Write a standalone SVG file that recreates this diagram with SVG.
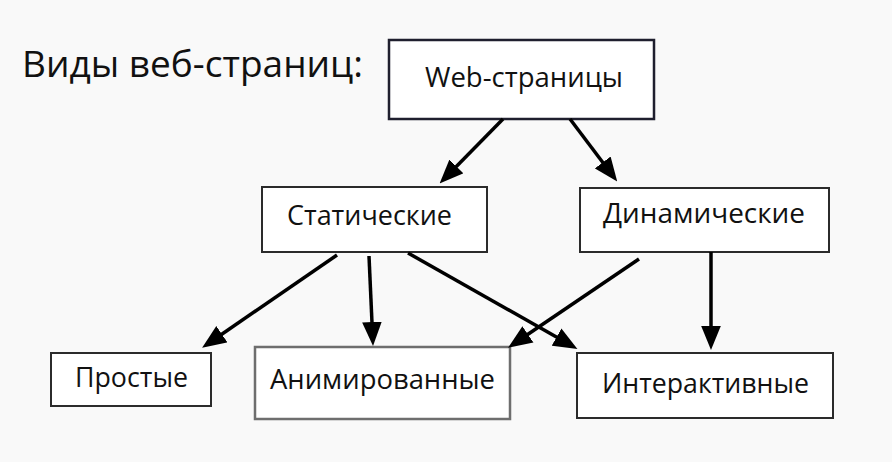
<svg xmlns="http://www.w3.org/2000/svg" width="892" height="462" viewBox="0 0 892 462">
<style>
.box{fill:#ffffff;stroke:#2b2b2b;stroke-width:2}
.lbl{font-family:"Open Sans","Noto Sans","DejaVu Sans",sans-serif;font-size:27px;fill:#111}
.ttl{font-family:"Open Sans","Noto Sans","DejaVu Sans",sans-serif;font-size:36px;fill:#111}
.con{stroke:#000;stroke-width:3.5;fill:none;marker-end:url(#ah)}
</style>
<defs>
<marker id="ah" markerUnits="userSpaceOnUse" markerWidth="24" markerHeight="20" refX="11" refY="9" orient="auto" viewBox="0 0 22 18">
<path d="M0,0 L22,9 L0,18 z" fill="#000"/>
</marker>
</defs>
<rect width="892" height="462" fill="#f9f9f9"/>
<text class="ttl" x="22" y="77" textLength="341" lengthAdjust="spacingAndGlyphs">Виды веб-страниц:</text>
<g id="web">
<rect class="box" x="389" y="40" width="265" height="79" style="stroke:#1f1f2e;stroke-width:2.5"/>
<text class="lbl" x="425" y="87" textLength="198" lengthAdjust="spacingAndGlyphs">Web-страницы</text>
</g>
<g id="static">
<rect class="box" x="262" y="187" width="225" height="65"/>
<text class="lbl" x="287" y="225" textLength="165" lengthAdjust="spacingAndGlyphs">Статические</text>
</g>
<g id="dynamic">
<rect class="box" x="580" y="188" width="249" height="64"/>
<text class="lbl" x="603" y="223" textLength="202" lengthAdjust="spacingAndGlyphs">Динамические</text>
</g>
<g id="simple">
<rect class="box" x="51" y="353" width="160" height="53"/>
<text class="lbl" x="75" y="387" textLength="113" lengthAdjust="spacingAndGlyphs">Простые</text>
</g>
<g id="animated">
<rect class="box" x="255" y="347" width="255" height="72" style="stroke:#6e6e6e;stroke-width:2.5"/>
<text class="lbl" x="270" y="389" textLength="225" lengthAdjust="spacingAndGlyphs">Анимированные</text>
</g>
<g id="interactive">
<rect class="box" x="577" y="353" width="256" height="65"/>
<text class="lbl" x="602" y="393" textLength="207" lengthAdjust="spacingAndGlyphs">Интерактивные</text>
</g>
<g id="connectors">
<line class="con" x1="503" y1="119" x2="448" y2="175"/>
<line class="con" x1="570" y1="119" x2="610" y2="172"/>
<line class="con" x1="337" y1="255" x2="212" y2="341"/>
<line class="con" x1="369" y1="256" x2="372.5" y2="334"/>
<line class="con" x1="408" y1="253" x2="567" y2="343"/>
<line class="con" x1="639" y1="259" x2="518" y2="341"/>
<line class="con" x1="711" y1="252" x2="711" y2="338"/>
</g>
</svg>
